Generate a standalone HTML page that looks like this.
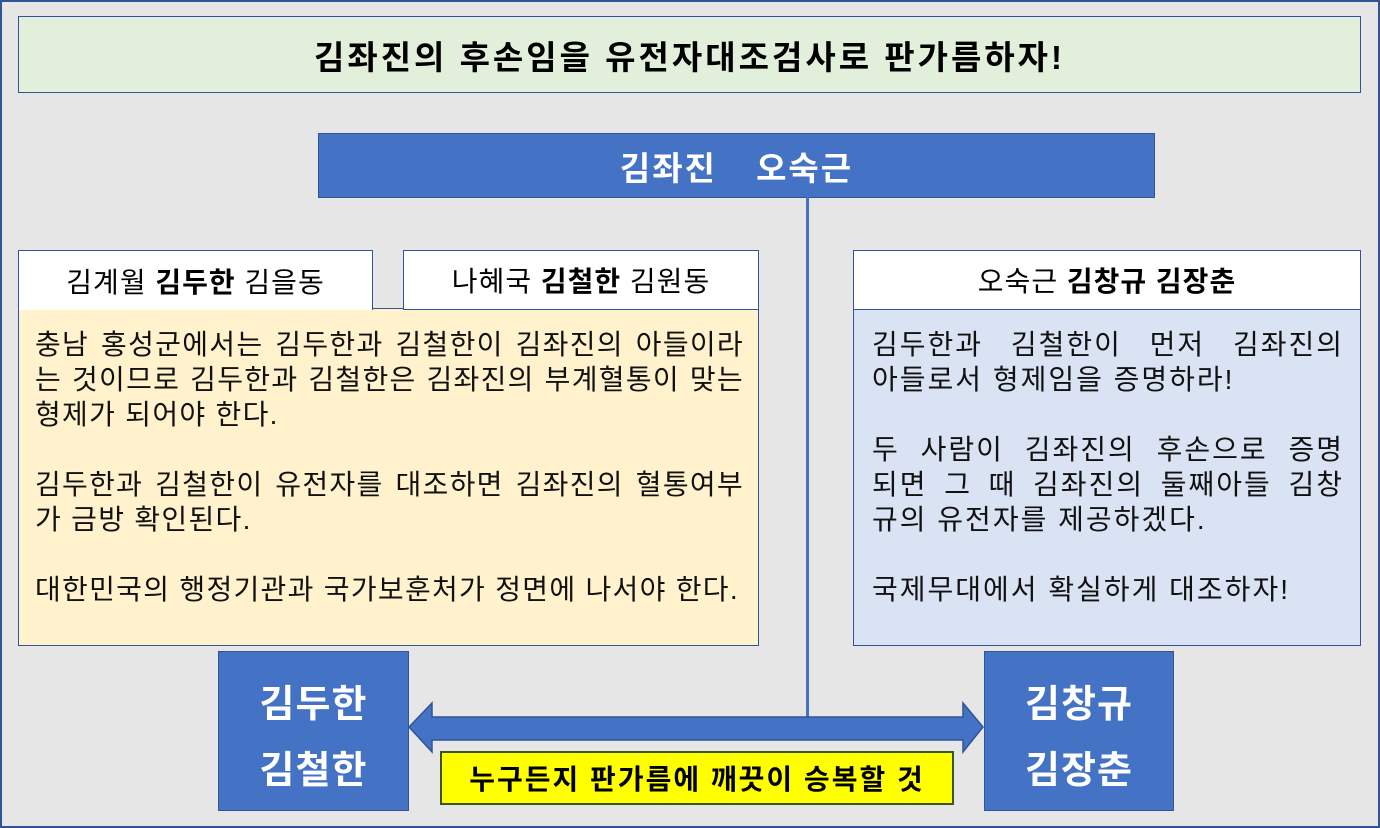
<!DOCTYPE html>
<html><head><meta charset="utf-8"><style>
body{margin:0;width:1380px;height:828px;overflow:hidden;background:#fff;font-family:"Liberation Sans","Noto Sans CJK KR",sans-serif}
.a{position:absolute;box-sizing:border-box}
.frame{left:0;top:0;width:1380px;height:828px;background:#e7e6e6;border:2px solid #2f5597}
.b{border:1.5px solid #2f5597}
.blue{background:#4472c4;color:#fff;font-weight:bold;display:flex;align-items:center;justify-content:center}
.tab{background:#fff;font-size:28px;letter-spacing:1px;display:flex;align-items:center;justify-content:center}
.body{font-size:28px;letter-spacing:1.3px;line-height:35px;padding:18px 14px 0 16px;color:#111;white-space:nowrap}
.body div{height:35px}
.j{text-align:justify;text-align-last:justify}
</style></head><body>
<div class="a frame"></div>
<div class="a b" style="left:18px;top:16px;width:1343px;height:77px;background:#e2efda;font-size:33px;letter-spacing:3px;font-weight:bold;display:flex;align-items:center;justify-content:center">김좌진의 후손임을 유전자대조검사로 판가름하자!</div>
<div class="a b blue" style="left:318px;top:133px;width:837px;height:65px;font-size:33px;letter-spacing:2px;word-spacing:28px">김좌진 오숙근</div>
<div class="a" style="left:806px;top:197px;width:3px;height:520px;background:#4472c4"></div>

<div class="a b body" style="left:18px;top:308px;width:741px;height:338px;background:#fff2cc">
<div class="j">충남 홍성군에서는 김두한과 김철한이 김좌진의 아들이라</div>
<div class="j">는 것이므로 김두한과 김철한은 김좌진의 부계혈통이 맞는</div>
<div>형제가 되어야 한다.</div>
<div></div>
<div class="j">김두한과 김철한이 유전자를 대조하면 김좌진의 혈통여부</div>
<div>가 금방 확인된다.</div>
<div></div>
<div>대한민국의 행정기관과 국가보훈처가 정면에 나서야 한다.</div>
</div>
<div class="a b tab" style="left:18px;top:250px;width:355px;height:60px;border-bottom:none">김계월&nbsp;<b>김두한</b>&nbsp;김을동</div>
<div class="a b tab" style="left:403px;top:250px;width:356px;height:60px">나혜국&nbsp;<b>김철한</b>&nbsp;김원동</div>

<div class="a b body" style="left:853px;top:308px;width:508px;height:338px;background:#dae3f3;padding:18px 16px 0 18px;letter-spacing:2px">
<div class="j">김두한과 김철한이 먼저 김좌진의</div>
<div>아들로서 형제임을 증명하라!</div>
<div></div>
<div class="j">두 사람이 김좌진의 후손으로 증명</div>
<div class="j">되면 그 때 김좌진의 둘째아들 김창</div>
<div>규의 유전자를 제공하겠다.</div>
<div></div>
<div>국제무대에서 확실하게 대조하자!</div>
</div>
<div class="a b tab" style="left:853px;top:250px;width:508px;height:60px">오숙근&nbsp;<b>김창규 김장춘</b></div>

<svg class="a" style="left:0;top:0" width="1380" height="828"><polygon points="409,727 432,703 432,717 963,717 963,703 983,727 963,752 963,740 432,740 432,752" fill="#4472c4" stroke="#2f5597" stroke-width="1.5"/></svg>
<div class="a b blue" style="left:218px;top:651px;width:191px;height:160px;font-size:38px;letter-spacing:1px;flex-direction:column;line-height:66px;padding-top:14px">김두한<br>김철한</div>
<div class="a b blue" style="left:984px;top:651px;width:190px;height:160px;font-size:38px;letter-spacing:1px;flex-direction:column;line-height:66px;padding-top:14px">김창규<br>김장춘</div>
<div class="a" style="left:440px;top:751px;width:514px;height:54px;background:#ffff00;border:2px solid #385723;font-size:28px;letter-spacing:2px;font-weight:bold;display:flex;align-items:center;justify-content:center">누구든지 판가름에 깨끗이 승복할 것</div>
</body></html>
